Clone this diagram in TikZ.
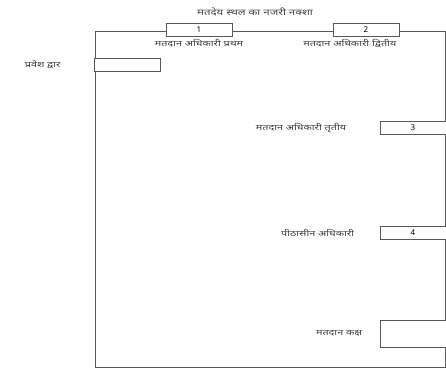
\documentclass[tikz,border=0pt]{standalone}
\usepackage{fontspec}
\newfontfamily\hindi[Script=Devanagari]{Noto Sans}
\usetikzlibrary{positioning}
\begin{document}
\begin{tikzpicture}[x=1pt, y=-1pt, thick,
	desk/.style = {draw=black!65, fill=white, line width=0.7pt, minimum width=66pt, minimum height=13pt, inner sep=0pt, font=\hindi\fontsize{8}{9}\selectfont\bfseries},
	lbl/.style = {text=black!75, inner sep=0pt, xscale=1.35, font=\hindi\fontsize{8}{9}\selectfont}]

		\useasboundingbox (0,0) rectangle (446,369);
		\draw[black!65, line width=0.7pt] (95,31) rectangle (445.6,367);

		\node[lbl, font=\hindi\fontsize{8.5}{9}\selectfont] (title) at (255,12) {मतदेय स्थल का नजरी नक्शा};

		\node[desk] (P1) at (199,29.5) {1};
		\node[desk] (P2) at (366,29.5) {2};
		\node[desk] (gate) at (127.5,64.5) {};
		\node[desk] (P3) at (413,127.5) {3};
		\node[desk] (P4) at (413,232.5) {4};
		\node[desk, minimum height=27pt] (booth) at (413,333.5) {};

		\node[lbl, below=3pt of P1] (l1) {मतदान अधिकारी प्रथम};
		\node[lbl, below=3pt of P2, xshift=-12pt] (l2) {मतदान अधिकारी द्वितीय};
		\node[lbl, left=33pt of gate] (lg) {प्रवेश द्वार};
		\node[lbl, left=33pt of P3] (l3) {मतदान अधिकारी तृतीय};
		\node[lbl, left=25pt of P4] (l4) {पीठासीन अधिकारी};
		\node[lbl, left=17pt of booth] (l5) {मतदान कक्ष};
	\end{tikzpicture}
\end{document}
